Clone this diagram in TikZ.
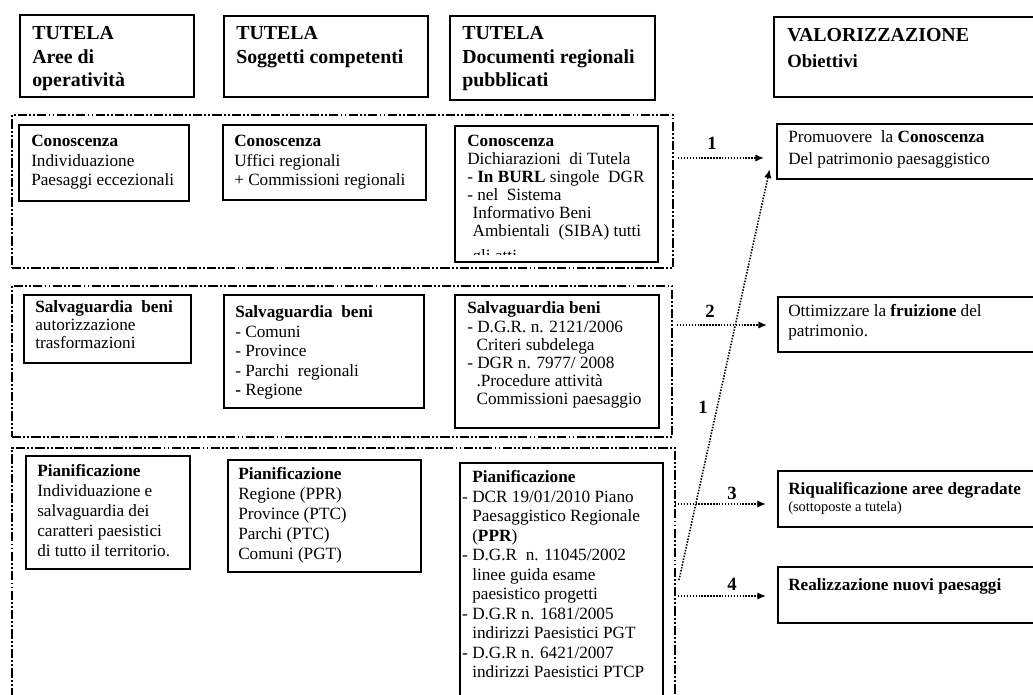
\documentclass[tikz,border=0pt]{standalone}
\usepackage{fontspec}
\setmainfont{Liberation Serif}
\usetikzlibrary{arrows.meta,fit,calc}
\newcommand\hdtext[1]{\parbox[t]{220pt}{\fontsize{14.9}{17.6}\selectfont\bfseries #1}}
\newcommand\bodytext[2]{\parbox[t]{220pt}{\fontsize{12.9}{#1}\selectfont #2}}
\begin{document}
\begin{tikzpicture}[x=0.75pt,y=-0.75pt,
  box/.style={draw, line width=1pt, inner sep=0pt},
  thickbox/.style={draw, line width=1.6pt, inner sep=0pt},
  grp/.style={draw, line width=1.8pt, inner sep=0pt,
    dash pattern=on 7pt off 1.6pt on 1.4pt off 1.6pt on 1.4pt off 1.6pt},
  txt/.style={anchor=base west, inner sep=0pt, align=left},
  arr/.style={line width=1.2pt, dash pattern=on 1.1pt off 1.1pt,
    -{Latex[length=6.5pt,width=5.5pt]}, shorten >=1pt},
  num/.style={font=\fontsize{14}{15}\selectfont\bfseries, anchor=base, inner sep=0pt}]
\useasboundingbox (0,0) rectangle (1033,695);

% header boxes
\node[box, fit={(20,15)(194,97)}] (h1) {};
\node[txt] (th1) at (32,40) {\hdtext{TUTELA\\Aree di\\operatività}};
\node[box, fit={(224,16)(428,97)}] (h2) {};
\node[txt] (th2) at (236,40) {\hdtext{TUTELA\\Soggetti competenti}};
\node[box, fit={(450,16)(655,100)}] (h3) {};
\node[txt] (th3) at (462,40) {\hdtext{TUTELA\\Documenti regionali\\pubblicati}};
\node[box, fit={(774,17)(1045,97)}] (h4) {};
\node[txt] (th4) at (787,42) {\parbox[t]{220pt}{\bfseries\fontsize{14.9}{18.8}\selectfont VALORIZZAZIONE\\\fontsize{14}{18.8}\selectfont Obiettivi}};

% groups
\node[grp, fit={(12,115)(673,268)}] (g1) {};
\node[grp, fit={(12,286)(672,437)}] (g2) {};
\node[grp, fit={(12,448)(675,712)}] (g3) {};

% row 1
\node[box, fit={(19,125)(189,201)}] (b11) {};
\node[txt] (t11) at (31,147) {\bodytext{14.3pt}{\textbf{Conoscenza}\\Individuazione\\Paesaggi eccezionali}};
\node[box, fit={(223,125)(426,200)}] (b12) {};
\node[txt] (t12) at (234,147) {\bodytext{14.3pt}{\textbf{Conoscenza}\\Uffici regionali\\+ Commissioni regionali}};
\node[box, fit={(455,126)(658,262)}] (b13) {};
\begin{scope}
\clip (455,126) rectangle (658,255);
\node[txt] (t13) at (467,147) {\bodytext{13.5pt}{\textbf{Conoscenza}\\Dichiarazioni\ \ di Tutela\\- \textbf{In BURL} singole\ \ DGR\\- nel\ \ Sistema\\\hspace*{4pt}Informativo Beni\\\hspace*{4pt}Ambientali\ \ (SIBA) tutti\\[5pt]\hspace*{4pt}gli atti}};
\end{scope}

% row 2
\node[box, fit={(24,295)(191,363)}] (b21) {};
\node[txt] (t21) at (35,313) {\bodytext{13.5pt}{\textbf{Salvaguardia\ \ beni}\\autorizzazione\\trasformazioni}};
\node[box, fit={(224,295)(424,408)}] (b22) {};
\node[txt] (t22) at (235,318) {\bodytext{14.6pt}{\textbf{Salvaguardia\ \ beni}\\- Comuni\\- Province\\- Parchi\ \ regionali\\\textbf{-} Regione}};
\node[box, fit={(455,295)(659,428)}] (b23) {};
\node[txt] (t23) at (467,314) {\bodytext{13.6pt}{\textbf{Salvaguardia beni}\\- D.G.R. n. 2121/2006\\\hspace*{7pt}Criteri subdelega\\- DGR n. 7977/ 2008\\\hspace*{7pt}.Procedure attività\\\hspace*{7pt}Commissioni paesaggio}};

% row 3
\node[thickbox, fit={(26,456)(190,569)}] (b31) {};
\node[txt] (t31) at (37,477) {\bodytext{15pt}{\textbf{Pianificazione}\\Individuazione e\\salvaguardia dei\\caratteri paesistici\\di tutto il territorio.}};
\node[box, fit={(228,460)(421,572)}] (b32) {};
\node[txt] (t32) at (238,480) {\bodytext{15pt}{\textbf{Pianificazione}\\Regione (PPR)\\Province (PTC)\\Parchi (PTC)\\Comuni (PGT)}};
\node[box, fit={(460,463)(663,712)}] (b33) {};
\node[txt] (t33) at (472,483) {\bodytext{14.6pt}{\textbf{Pianificazione}\\\llap{- }DCR 19/01/2010 Piano\\Paesaggistico Regionale\\(\textbf{PPR})\\\llap{- }D.G.R\ \ n. 11045/2002\\linee guida esame\\paesistico progetti\\\llap{- }D.G.R n. 1681/2005\\indirizzi Paesistici PGT\\\llap{- }D.G.R n. 6421/2007\\indirizzi Paesistici PTCP}};

% objectives
\node[box, fit={(777,124)(1045,179)}] (v1) {};
\node[txt] (tv1) at (788,143) {\bodytext{16pt}{Promuovere\ \ la \textbf{Conoscenza}\\Del patrimonio paesaggistico}};
\node[box, fit={(778,297)(1045,352)}] (v2) {};
\node[txt] (tv2) at (788,317) {\bodytext{15pt}{Ottimizzare la \textbf{fruizione} del\\patrimonio.}};
\node[box, fit={(778,471)(1045,527)}] (v3) {};
\node[txt] (tv3) at (788,495) {\bodytext{12.75pt}{\textbf{Riqualificazione aree degradate}\\{\fontsize{10.8}{12.75}\selectfont (sottoposte a tutela)}}};
\node[box, fit={(778,567)(1045,623)}] (v4) {};
\node[txt] (tv4) at (788,590) {\bodytext{15pt}{\textbf{Realizzazione nuovi paesaggi}}};

% connectors
\coordinate (a1s) at (678,158);
\coordinate (a2s) at (677,325);
\coordinate (a3s) at (675,504);
\coordinate (a4s) at (678,596);
\coordinate (l1s) at (679,580);
\coordinate (l1e) at (770,168);
\draw[arr] (a1s) -- ($(a1s -| v1.west)+(-11,0)$);
\draw[arr] (a2s) -- ($(a2s -| v2.west)+(-9,0)$);
\draw[arr] (a3s) -- ($(a3s -| v3.west)+(-10,0)$);
\draw[arr] (a4s) -- ($(a4s -| v4.west)+(-10,0)$);
\draw[arr] (l1s) -- (l1e);
\node[num] (n1) at (712,150) {1};
\node[num] (n2) at (710,318) {2};
\node[num] (n3) at (732,500) {3};
\node[num] (n4) at (732,590) {4};
\node[num] (n1b) at (703,414) {1};
\end{tikzpicture}
\end{document}
